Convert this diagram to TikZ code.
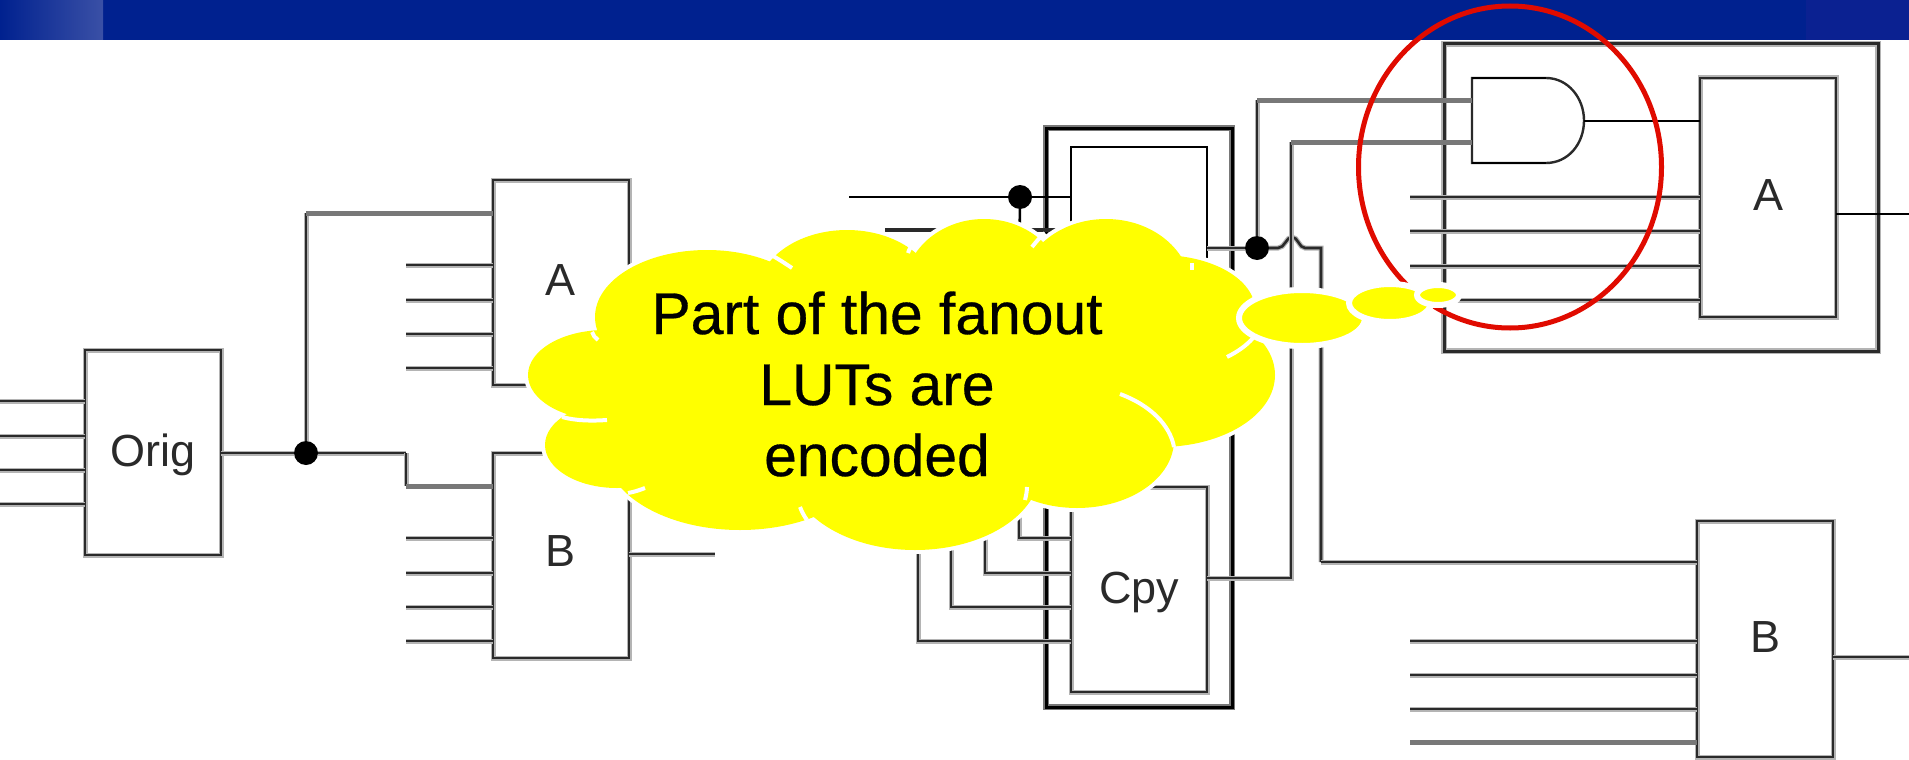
\documentclass[tikz,border=0pt]{standalone}
\usepackage{fontspec}
\setmainfont{Liberation Sans}
\newfontface\cloudface{Liberation Sans}[FakeBold=0.5]
\definecolor{hdr}{HTML}{00218F}
\definecolor{hdrl}{HTML}{3A50A6}
\definecolor{hdrr}{HTML}{0B2191}
\definecolor{ink}{HTML}{2A2A2A}
\definecolor{halo}{HTML}{B4B4B4}
\definecolor{midg}{HTML}{787878}
\definecolor{ringred}{HTML}{E00B00}
\definecolor{cloudy}{HTML}{FFFF00}
\tikzset{
  wire/.style={draw=ink,line width=2.6pt,preaction={draw=halo,line width=5pt}},
  gwire/.style={draw=midg,line width=5pt},
  bwire/.style={draw=black,line width=2.6pt},
  lutbox/.style={draw=ink,line width=2.8pt,preaction={draw=halo,line width=5pt},inner sep=0pt,outer sep=0pt,rectangle,text=ink,font=\fontsize{45}{54}\selectfont,text height=36pt,text depth=8pt},
  lutletter/.style={lutbox,text height=33pt,text depth=7pt},
  ghost/.style={inner sep=0pt,outer sep=0pt,rectangle},
  dotnode/.style={circle,fill=black,inner sep=0pt,outer sep=0pt,minimum size=24pt},
  stub/.style={draw=white,line width=4pt},
  bubble/.style={fill=cloudy,draw=white,line width=6pt},
}
\begin{document}
\begin{tikzpicture}[x=1pt,y=-1pt,line join=miter]
\useasboundingbox (0,0) rectangle (1909,760);
% header band
\fill[hdr] (0,0) rectangle (1909,40);
\shade[left color=hdr,right color=hdrl,shading angle=90] (0,0) rectangle (103,40);
\fill[hdrr] (1806,0) rectangle (1909,40);

% left part
\node[lutbox,minimum width=136pt,minimum height=205pt] (orig) at (153,452.5) {Orig};
\node[lutletter,minimum width=136pt,minimum height=205pt] (la) at (561,282.5) {A};
\node[lutletter,text depth=11pt,minimum width=136pt,minimum height=205pt] (lb) at (561,555.5) {B};
\node[dotnode] (d1) at (306,453) {};
\foreach \n/\y in {1/401,2/436,3/470,4/504}{
  \coordinate (oi\n) at (0,\y);
  \draw[wire] (oi\n) -- (oi\n -| orig.west);
}
\foreach \n/\y in {1/265,2/300,3/334,4/368}{
  \coordinate (ai\n) at (406,\y);
  \draw[wire] (ai\n) -- (ai\n -| la.west);
}
\foreach \n/\y in {1/538,2/573,3/607,4/641}{
  \coordinate (bi\n) at (406,\y);
  \draw[wire] (bi\n) -- (bi\n -| lb.west);
}
\coordinate (ta) at (306,213);
\coordinate (tb) at (406,453);
\coordinate (tc) at (406,486);
\coordinate (lbout) at (715,554);
\draw[wire] (orig.east |- d1) -- (d1);
\draw[wire] (d1) -- (ta);
\draw[gwire] (ta) -- (ta -| la.west);
\draw[wire] (d1) -- (tb);
\draw[wire] (tb) -- (tc);
\draw[gwire] (tc) -- (tc -| lb.west);
\draw[wire] (lbout -| lb.east) -- (lbout);

% middle part
\node[ghost,draw=black,line width=3pt,preaction={draw=midg,line width=6pt},minimum width=186pt,minimum height=579pt] (mo) at (1139,417.5) {};
\node[ghost,draw=black,line width=2.6pt,minimum width=136pt,minimum height=283pt] (up) at (1139,288.5) {};
\node[lutbox,minimum width=136pt,minimum height=205pt] (cpy) at (1139,589.5) {Cpy};
\coordinate (mi) at (849,197);
\node[dotnode] (d2) at (1020,197) {};
\draw[bwire] (mi) -- (d2);
\draw[bwire] (d2) -- (up.west |- d2);
\coordinate (c1) at (1019,300);
\coordinate (c1b) at (1019,538);
\draw[bwire] (d2) -- (c1);
\draw[wire] (c1) -- (c1b) -- (c1b -| cpy.west);
\coordinate (c0) at (885,230);
\draw[draw=ink,line width=4pt] (c0) -- (c0 -| up.west);
\foreach \x/\y in {985/573,951/607,918/641}{
  \coordinate (cc) at (\x,\y);
  \draw[wire] (\x,400) -- (cc) -- (cc -| cpy.west);
}
% fanout wires
\node[dotnode] (d3) at (1257,248) {};
\coordinate (h1) at (1278,248);
\coordinate (h2) at (1305,248);
\coordinate (h3) at (1321,248);
\coordinate (h4) at (1321,562);
\draw[wire] (up.east |- d3) -- (d3);
\draw[wire] (d3) -- (h1) .. controls (1285,248) and (1286,237) .. (1292,237) .. controls (1298,237) and (1299,248) .. (h2) -- (h3) -- (h4);

% right part
\node[ghost,draw=ink,line width=3pt,preaction={draw=halo,line width=6pt},minimum width=434pt,minimum height=307pt] (oa) at (1661,197.5) {};
\node[lutletter,minimum width=136pt,minimum height=239pt] (ra) at (1768,197.5) {A};
\node[lutletter,minimum width=136pt,minimum height=236pt] (rb) at (1765,639) {B};
\node[ghost,minimum width=112pt,minimum height=85pt] (andg) at (1528,120.5) {};
\coordinate (ap) at (1546,78);
\coordinate (aq) at (1546,163);
\draw[ink,line width=2.4pt] (andg.south west) -- (andg.north west) -- (ap)
  .. controls (1568,78) and (andg.east |- 0,98) .. (andg.east)
  .. controls (andg.east |- 0,144) and (1568,163) .. (aq) -- cycle;
\draw[bwire] (andg.north west) -- (ap);
\draw[bwire] (andg.south west) -- (aq);
\coordinate (p1) at (1257,100);
\coordinate (p2) at (1291,142);
\coordinate (p2b) at (1291,578);
\draw[wire] (d3) -- (p1);
\draw[gwire] (p1) -- (p1 -| andg.west);
\draw[wire] (cpy.east |- p2b) -- (p2b) -- (p2);
\draw[gwire] (p2) -- (p2 -| andg.west);
\draw[draw=black,line width=2pt] (andg.east) -- (andg.east -| ra.west);
\foreach \n/\y in {1/197,2/231,3/266,4/300}{
  \coordinate (ri\n) at (1410,\y);
  \draw[wire] (ri\n) -- (ri\n -| ra.west);
}
\coordinate (rao) at (1909,214);
\draw[bwire] (rao -| ra.east) -- (rao);
\draw[wire] (h4) -- (h4 -| rb.west);
\foreach \n/\y in {1/641,2/675,3/709}{
  \coordinate (rj\n) at (1410,\y);
  \draw[wire] (rj\n) -- (rj\n -| rb.west);
}
\coordinate (rj4) at (1410,742);
\draw[gwire] (rj4) -- (rj4 -| rb.west);
\coordinate (rbo) at (1909,657);
\draw[wire] (rbo -| rb.east) -- (rbo);

% red ring
\draw[ringred,line width=5pt] (1510,167) ellipse [x radius=151.5pt,y radius=161pt];

% cloud
\foreach \cx/\cy/\rx/\ry in {707/317/112/67,605/375/77/45,617/445/72/43,740/450/135/80,915/470/125/80,1077/440/97/68,1160/310/95/55,1160/375/115/72,1106/290/85/71,984/290/80/71,847/295/90/65}{
  \draw[white,line width=8pt] (\cx,\cy) ellipse [x radius=\rx pt,y radius=\ry pt];
}
\foreach \cx/\cy/\rx/\ry in {707/317/112/67,605/375/77/45,617/445/72/43,740/450/135/80,915/470/125/80,1077/440/97/68,1160/310/95/55,1160/375/115/72,1106/290/85/71,984/290/80/71,847/295/90/65}{
  \fill[cloudy] (\cx,\cy) ellipse [x radius=\rx pt,y radius=\ry pt];
}
\fill[cloudy] (640,340) -- (800,270) -- (1100,260) -- (1180,330) -- (1150,430) -- (900,500) -- (700,480) -- (620,430) -- cycle;
\draw[stub] (773,256) .. controls (780,260) and (786,264) .. (792,268);
\draw[stub] (908,253) .. controls (909,250) and (911,246) .. (913,243);
\draw[stub] (1032,247) .. controls (1036,242) and (1040,237) .. (1045,233);
\draw[stub] (1192,263) -- (1192,270);
\draw[stub] (1227,357) .. controls (1237,352) and (1246,346) .. (1253,338);
\draw[stub] (1120,394) .. controls (1150,405) and (1170,425) .. (1174,447);
\draw[stub] (1027,487) .. controls (1027,491) and (1026,496) .. (1025,500);
\draw[stub] (800,507) .. controls (802,512) and (804,516) .. (807,520);
\draw[stub] (628,493) .. controls (634,492) and (640,490) .. (645,488);
\draw[stub] (562,417) .. controls (577,421) and (592,421) .. (607,420);
\draw[stub] (592,332) .. controls (593,335) and (595,338) .. (598,340);
\draw[bubble] (1302,318) ellipse [x radius=63pt,y radius=28pt];
\draw[bubble] (1390,303) ellipse [x radius=41pt,y radius=19pt];
\draw[bubble] (1438,295) ellipse [x radius=21pt,y radius=10pt];
\node[align=center,text=black,inner sep=0pt,font=\cloudface\fontsize{58.8}{71}\selectfont] (msg) at (877,384) {Part of the fanout\\LUTs are\\encoded};
\end{tikzpicture}
\end{document}
